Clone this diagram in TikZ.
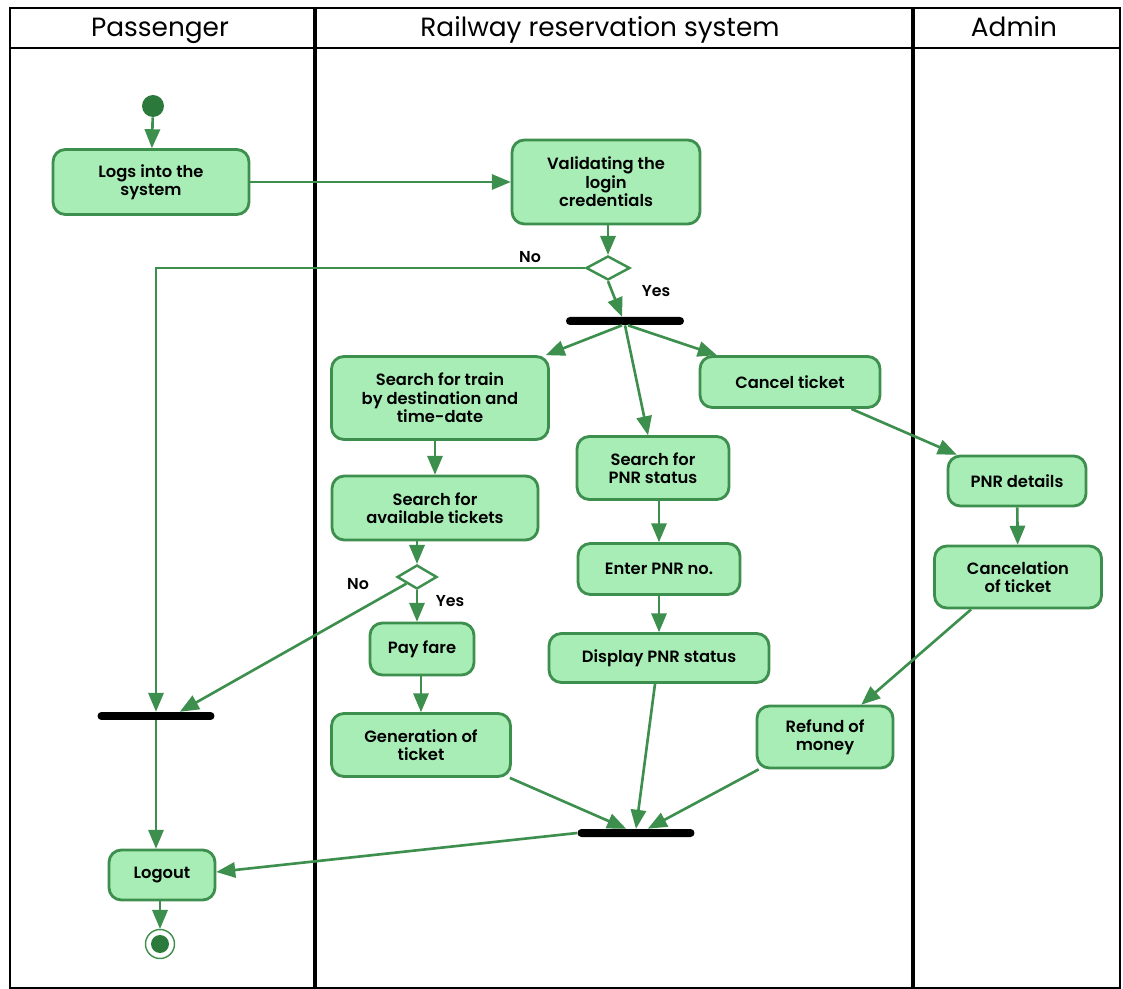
\documentclass[tikz,border=0pt]{standalone}
\usepackage{fontspec}
\setmainfont{Poppins}
\newfontfamily\actfont{Poppins SemiBold}
\usepackage{tikz}
\usetikzlibrary{shapes.geometric}
\usetikzlibrary{arrows}

\definecolor{actfill}{HTML}{A8ECB6}
\definecolor{actline}{HTML}{3D8F4E}
\definecolor{dotgreen}{HTML}{2B7A3C}

\tikzset{
  act/.style={draw=actline, fill=actfill, line width=1.6pt, rounded corners=7pt,
    align=center, inner sep=2pt, font=\fontsize{9.3}{10.5}\actfont},
  bar/.style={fill=black, rounded corners=2.2pt, inner sep=0pt,
    minimum width=2.34cm, minimum height=0.16cm},
  dec/.style={diamond, draw=actline, fill=white, line width=1.4pt, inner sep=0pt,
    aspect=1.8, minimum width=0.88cm, minimum height=0.48cm},
  startdot/.style={circle, fill=dotgreen, inner sep=0pt, minimum size=0.44cm},
  enddot/.style={circle, draw=actline, fill=white, line width=0.8pt, inner sep=0pt,
    minimum size=0.58cm},
  flow/.style={draw=actline, line width=1.5pt, ->, >=triangle 45},
  lane/.style={line width=2pt},
  lanehead/.style={anchor=base, font=\fontsize{15}{17}\selectfont},
  guard/.style={font=\fontsize{9}{10}\actfont},
}

\begin{document}
\begin{tikzpicture}[x=0.02cm, y=-0.02cm]
    \useasboundingbox (0, 0) rectangle (1123, 989);

    % swimlanes
    \draw[line width=1.2pt] (10, 8) rectangle (1120, 988);
    \draw[line width=1.2pt] (10, 48) -- (1120, 48);
    \draw[lane] (315, 8) -- (315, 988);
    \draw[lane] (913, 8) -- (913, 988);
    \node[lanehead] (hpass) at (160, 37) {Passenger};
    \node[lanehead] (hsys) at (600, 37) {Railway reservation system};
    \node[lanehead] (hadmin) at (1014, 37) {Admin};

    % activities
    \node[startdot] (start) at (153, 106) {};
    \node[act, minimum width=3.92cm, minimum height=1.30cm] (login) at (151, 182)
        {Logs into the\\system};
    \node[act, minimum width=3.76cm, minimum height=1.68cm] (valid) at (606, 182)
        {Validating the\\login\\credentials};
    \node[dec] (dec1) at (608, 268) {};
    \node[bar, minimum width=2.36cm] (fork1) at (625, 321) {};
    \node[act, minimum width=4.34cm, minimum height=1.66cm] (train) at (440, 398)
        {Search for train\\by destination and\\time-date};
    \node[act, minimum width=3.04cm, minimum height=1.26cm] (pnrs) at (653, 468)
        {Search for\\PNR status};
    \node[act, minimum width=3.60cm, minimum height=1.02cm] (cancel) at (790, 382)
        {Cancel ticket};
    \node[act, minimum width=4.12cm, minimum height=1.28cm] (avail) at (435, 508)
        {Search for\\available tickets};
    \node[dec, minimum width=0.80cm, minimum height=0.48cm] (dec2) at (417, 577) {};
    \node[act, minimum width=2.08cm, minimum height=1.04cm] (pay) at (422, 649)
        {Pay fare};
    \node[act, minimum width=3.24cm, minimum height=1.02cm] (enter) at (659, 569)
        {Enter PNR no.};
    \node[act, minimum width=4.40cm, minimum height=0.98cm] (disp) at (659, 658)
        {Display PNR status};
    \node[act, minimum width=3.58cm, minimum height=1.26cm] (gen) at (421, 745)
        {Generation of\\ticket};
    \node[act, minimum width=2.76cm, minimum height=1.00cm] (pnrd) at (1017, 481)
        {PNR details};
    \node[act, minimum width=3.34cm, minimum height=1.24cm] (canc2) at (1018, 577)
        {Cancelation\\of ticket};
    \node[act, minimum width=2.72cm, minimum height=1.24cm] (refund) at (825, 737)
        {Refund of\\money};
    \node[bar] (forkL) at (156, 716) {};
    \node[bar] (join) at (636, 833) {};
    \node[act, minimum width=2.12cm, minimum height=1.00cm] (logout) at (162, 875)
        {Logout};
    \node[enddot] (end) at (160, 944) {};
    \node[startdot, minimum size=0.36cm] (endin) at (end) {};

    % guards
    \node[guard] (no1) at (530, 257) {No};
    \node[guard] (yes1) at (656, 291) {Yes};
    \node[guard] (no2) at (358, 584) {No};
    \node[guard] (yes2) at (450, 601) {Yes};

    % flows
    \draw[flow] (start) -- (login);
    \draw[flow] (login) -- (valid);
    \draw[flow] (valid.south -| dec1.north) -- (dec1.north);
    \draw[flow] (dec1.west) -| (forkL.north);
    \draw[flow] (dec1.south) -- ([xshift=-0.06cm]fork1.north);
    \draw[flow] ([xshift=-0.06cm]fork1.south) -- ([xshift=-0.08cm]train.north east);
    \draw[flow] (fork1.south) -- ([xshift=-0.1cm]pnrs.north);
    \draw[flow] ([xshift=0.06cm]fork1.south) -- ([xshift=0.36cm]cancel.north west);
    \draw[flow] (train.south -| avail.north) -- (avail.north);
    \draw[flow] (avail.south -| dec2.north) -- (dec2.north);
    \draw[flow] (dec2.south) -- (dec2.south |- pay.north);
    \draw[flow] (dec2.south west) -- ([xshift=0.48cm]forkL.north);
    \draw[flow] (pay.south -| gen.north) -- (gen.north);
    \draw[flow] (pnrs.south -| enter.north) -- (enter.north);
    \draw[flow] (enter) -- (disp);
    \draw[flow] ([xshift=-0.6cm]cancel.south east) -- ([xshift=0.2cm]pnrd.north west);
    \draw[flow] (pnrd) -- (canc2);
    \draw[flow] ([xshift=0.76cm]canc2.south west) -- ([xshift=-0.66cm]refund.north east);
    \draw[flow] ([xshift=-0.08cm]disp.south) -- (join.north);
    \draw[flow] ([xshift=-0.04cm]gen.south east) -- ([xshift=-0.2cm]join.north);
    \draw[flow] ([xshift=0.06cm]refund.south west) -- ([xshift=0.24cm]join.north);
    \draw[flow] (forkL.south) -- (forkL.south |- logout.north);
    \draw[flow] (join.west) -- ([yshift=0.06cm]logout.east);
    \draw[flow] (logout.south -| end.north) -- (end.north);
\end{tikzpicture}
\end{document}
